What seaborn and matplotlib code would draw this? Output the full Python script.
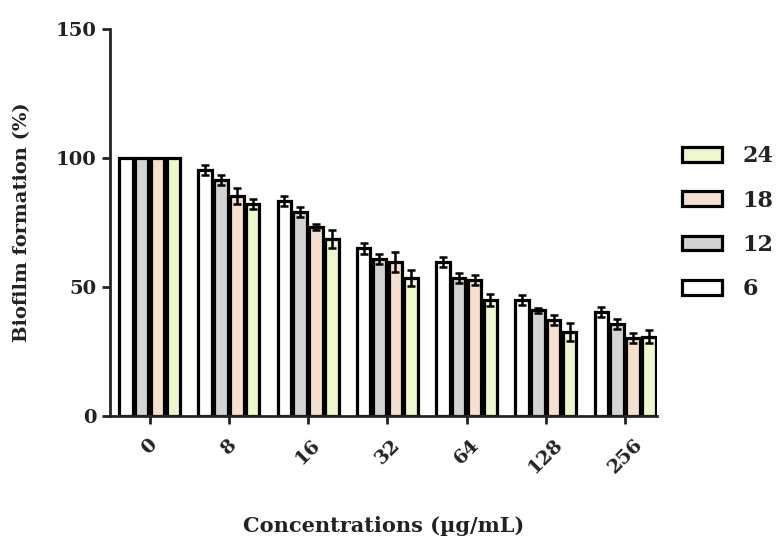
import numpy as np
import pandas as pd
import matplotlib
matplotlib.use('Agg')
import matplotlib.pyplot as plt
import seaborn as sns

# data
concentrations = ['0', '8', '16', '32', '64', '128', '256']
times = ['6', '12', '18', '24']
biofilm = {
    '6':  [100, 95.3, 83.3, 65.0, 59.7, 45.0, 40.3],
    '12': [100, 91.5, 79.0, 61.0, 53.5, 41.0, 35.7],
    '18': [100, 85.3, 73.3, 59.7, 52.7, 37.2, 30.2],
    '24': [100, 82.2, 68.5, 53.5, 45.0, 32.5, 30.7],
}
errors = {
    '6':  [0, 2.0, 2.0, 2.0, 2.0, 2.0, 2.0],
    '12': [0, 2.0, 2.0, 2.0, 2.0, 1.0, 2.0],
    '18': [0, 3.0, 1.0, 4.0, 2.0, 2.0, 2.0],
    '24': [0, 2.0, 3.5, 3.0, 2.5, 3.5, 2.5],
}
colors = ['#ffffff', '#d3d3d3', '#fde0c6', '#f1ffc4']

rows = []
for t in times:
    for c, v, e in zip(concentrations, biofilm[t], errors[t]):
        rows.append({'conc': c, 'time': t, 'value': v, 'err': e})
df = pd.DataFrame(rows)

sns.set_style('ticks')
plt.rcParams['font.family'] = ['DejaVu Serif']
plt.rcParams['font.weight'] = 'bold'

fig = plt.figure(figsize=(7.8, 5.41), dpi=100)
ax = fig.add_axes([0.141, 0.231, 0.701, 0.715])

sns.barplot(data=df, x='conc', y='value', hue='time', order=concentrations,
            hue_order=times, palette=colors, width=0.8, gap=0.15,
            edgecolor='black', linewidth=2.3, errorbar=None, ax=ax)

# error bars on top of each bar
for t, cont in zip(times, ax.containers):
    xs = [p.get_x() + p.get_width() / 2 for p in cont.patches]
    hs = [p.get_height() for p in cont.patches]
    ax.errorbar(xs, hs, yerr=errors[t], fmt='none', ecolor='black',
                elinewidth=1.8, capsize=3, capthick=1.8, zorder=5)

ax.set_ylim(0, 150)
ax.set_yticks([0, 50, 100, 150])
ax.set_xlim(-0.5, 6.4)
sns.despine(ax=ax)
for s in ['left', 'bottom']:
    ax.spines[s].set_linewidth(2)
ax.tick_params(axis='both', width=2, length=6, labelsize=14, colors='#222222')
ax.tick_params(axis='x', pad=8)
plt.setp(ax.get_xticklabels(), rotation=45, ha='center', va='top',
         rotation_mode='default')
ax.set_ylabel('Biofilm formation (%)', fontsize=14, fontweight='bold',
              labelpad=18, color='#222222')
ax.set_xlabel('Concentrations (µg/mL)', fontsize=15, fontweight='bold',
              labelpad=28, color='#222222')

handles, labels = ax.get_legend_handles_labels()
ax.legend(handles[::-1], labels[::-1], loc='center left',
          bbox_to_anchor=(1.01, 0.5), frameon=False, fontsize=16,
          handlelength=1.8, handleheight=0.65, labelspacing=1.0,
          handletextpad=0.9, labelcolor='#222222')

fig.savefig('out.png', dpi=100)
